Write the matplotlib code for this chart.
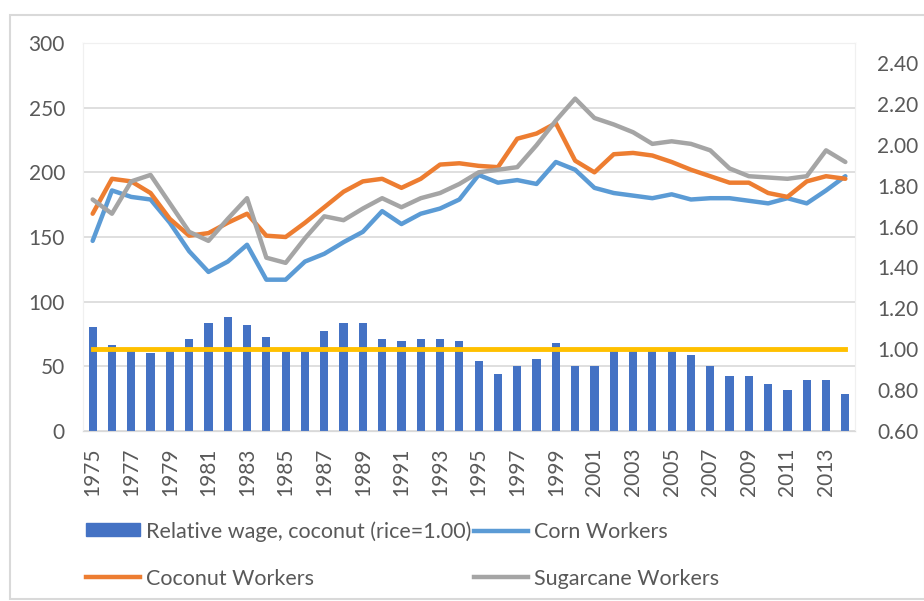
import matplotlib
matplotlib.use("Agg")

import matplotlib.pyplot as plt
from matplotlib.patches import Rectangle

years = list(range(1975, 2015))

# relative wage coconut vs rice (right axis)
relative_wage = [1.11, 1.02, 1.00, 0.98, 1.00, 1.05, 1.13, 1.16, 1.12, 1.06,
                 1.00, 1.00, 1.09, 1.13, 1.13, 1.05, 1.04, 1.05, 1.05, 1.04,
                 0.94, 0.88, 0.92, 0.95, 1.03, 0.92, 0.92, 1.00, 1.00, 1.00,
                 1.00, 0.97, 0.92, 0.87, 0.87, 0.83, 0.80, 0.85, 0.85, 0.78]
rice_ref = [1.00] * len(years)

# wage indices (left axis)
corn = [147, 186, 181, 179, 161, 139, 123, 131, 144, 117,
        117, 131, 137, 146, 154, 170, 160, 168, 172, 179,
        198, 192, 194, 191, 208, 202, 188, 184, 182, 180,
        183, 179, 180, 180, 178, 176, 180, 176, 186, 197]
coconut = [168, 195, 193, 184, 164, 151, 153, 161, 168, 151,
           150, 161, 173, 185, 193, 195, 188, 195, 206, 207,
           205, 204, 226, 230, 238, 209, 200, 214, 215, 213,
           208, 202, 197, 192, 192, 184, 181, 193, 197, 195]
sugarcane = [179, 168, 193, 198, 176, 154, 147, 164, 180, 134,
             130, 149, 166, 163, 172, 180, 173, 180, 184, 191,
             200, 202, 204, 221, 240, 257, 242, 237, 231, 222,
             224, 222, 217, 203, 197, 196, 195, 197, 217, 208]

labels = ["Relative wage, coconut (rice=1.00)", "Corn Workers",
          "Coconut Workers", "Sugarcane Workers"]

txt = "#595959"
plt.rcParams["font.family"] = ["Lato", "DejaVu Sans"]

fig = plt.figure(figsize=(9.24, 6.01), dpi=100)
ax = fig.add_axes([83 / 924, 1 - 431 / 601, (855 - 83) / 924, (431 - 43) / 601])
ax2 = ax.twinx()

# chart border
fig.patches.append(Rectangle((10 / 924, 0.003), 0.99, 1 - 15 / 601 - 0.003,
                             transform=fig.transFigure, fill=False,
                             edgecolor="#D9D9D9", linewidth=1.5))

ax.plot(years, corn, color="#5B9BD5", linewidth=3.2, solid_capstyle="round", zorder=3)
ax.plot(years, coconut, color="#ED7D31", linewidth=3.2, solid_capstyle="round", zorder=3)
ax.plot(years, sugarcane, color="#A5A5A5", linewidth=3.2, solid_capstyle="round", zorder=3)

ax2.bar(years, relative_wage, width=0.42, color="#4472C4", bottom=0, zorder=2)
ax2.plot(years, rice_ref, color="#FFC000", linewidth=3.5, zorder=3)

ax.set_xlim(1974.5, 2014.5)
ax.set_ylim(0, 300)
ax.set_yticks(range(0, 301, 50))
ax2.set_ylim(0.6, 2.498)
ax2.set_yticks([0.6 + 0.2 * i for i in range(10)])
ax2.set_yticklabels([f"{0.6 + 0.2 * i:.2f}" for i in range(10)])
ax.set_xticks(years[::2])
ax.set_xticklabels([str(y) for y in years[::2]], rotation=90)

ax.grid(axis="y", color="#D9D9D9", linewidth=1.2)
ax.set_axisbelow(True)
for a in (ax, ax2):
    for s in ("top", "left", "right"):
        a.spines[s].set_color("#F0F0F0")
    a.spines["bottom"].set_color("#D9D9D9")
    a.tick_params(length=0, labelsize=15, labelcolor=txt)
ax.tick_params(axis="y", pad=13)
ax.tick_params(axis="x", pad=12)
ax2.tick_params(axis="y", pad=16)

# legend: matplotlib fills column by column
h_bar = Rectangle((0, 0), 1, 1, color="#4472C4")
h_corn = plt.Line2D([], [], color="#5B9BD5", linewidth=3.2)
h_coco = plt.Line2D([], [], color="#ED7D31", linewidth=3.2)
h_sug = plt.Line2D([], [], color="#A5A5A5", linewidth=3.2)
fig.legend([h_bar, h_coco, h_corn, h_sug],
           [labels[0], labels[2], labels[1], labels[3]],
           ncol=2, loc="upper left", bbox_to_anchor=(86 / 924, 1 - 521 / 601),
           frameon=False, fontsize=15.5, labelcolor=txt,
           handlelength=2.5, handleheight=0.55, handletextpad=0.3,
           columnspacing=0.1, labelspacing=1.25, borderpad=0, borderaxespad=0)

fig.savefig("out.png", dpi=100)
